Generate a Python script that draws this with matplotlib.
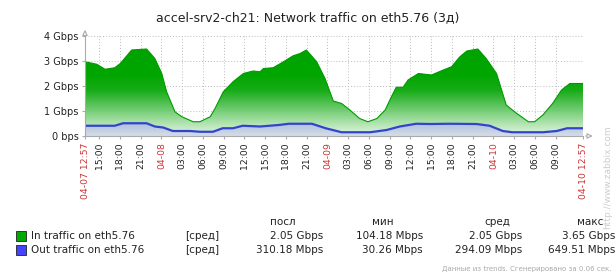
""" Zabbix style network traffic graph """

import numpy as np
import matplotlib
matplotlib.use("Agg")
import matplotlib.pyplot as plt
from matplotlib.colors import LinearSegmentedColormap
from matplotlib.patches import Polygon, Rectangle


# hours since 04-07 12:57, values in Gbps
in_hours = [0, 1.7, 2.9, 4.3, 5.1, 6.75, 8.9, 10.1, 11.1, 11.8, 13.0, 14.0, 15.65, 16.6,
            18.1, 18.8, 20.0, 21.4, 22.9, 24.3, 25.3, 25.8, 27.2, 28.7, 30.1, 31.1, 32.0,
            33.5, 34.7, 35.9, 37.1, 38.3, 39.7, 40.9, 42.2, 43.4, 44.3, 45.0, 46.0, 46.7,
            48.2, 50.1, 51.8, 53.0, 54.2, 55.2, 56.8, 58.0, 59.5, 60.9, 62.1, 64.1, 65.0,
            66.2, 67.6, 68.9, 70.1, 72]
in_gbps = [2.97, 2.87, 2.67, 2.73, 2.9, 3.44, 3.48, 3.1, 2.5, 1.77, 0.97, 0.77, 0.57, 0.57,
           0.77, 1.1, 1.77, 2.17, 2.5, 2.6, 2.57, 2.7, 2.73, 2.97, 3.21, 3.3, 3.44,
           2.97, 2.3, 1.4, 1.3, 1.04, 0.7, 0.57, 0.7, 1.04, 1.57, 1.95, 1.95, 2.24,
           2.5, 2.44, 2.64, 2.77, 3.17, 3.4, 3.48, 3.1, 2.5, 1.24, 0.97, 0.57, 0.57,
           0.84, 1.3, 1.84, 2.1, 2.1]

out_hours = [0, 4.3, 5.5, 8.9, 10.1, 11.3, 12.7, 15.2, 16.6, 18.5, 19.9, 21.4, 22.8, 25.3,
             28.0, 29.5, 32.8, 34.8, 37.1, 41.2, 43.6, 45.5, 47.9, 49.9, 52.7, 56.6, 58.5,
             60.4, 61.8, 66.2, 68.2, 69.7, 72]
out_gbps = [0.41, 0.41, 0.51, 0.51, 0.38, 0.34, 0.2, 0.2, 0.17, 0.17, 0.31, 0.31, 0.41, 0.38,
            0.44, 0.49, 0.49, 0.31, 0.15, 0.15, 0.24, 0.38, 0.49, 0.48, 0.49, 0.48, 0.41,
            0.2, 0.15, 0.15, 0.2, 0.31, 0.31]

y_ticks = [0, 1, 2, 3, 4]
y_labels = ["0 bps", "1 Gbps", "2 Gbps", "3 Gbps", "4 Gbps"]

first_tick = 2.05  # 15:00 on 04-07
x_labels = ["15:00", "18:00", "21:00", "04-08", "03:00", "06:00", "09:00", "12:00",
            "15:00", "18:00", "21:00", "04-09", "03:00", "06:00", "09:00", "12:00",
            "15:00", "18:00", "21:00", "04-10", "03:00", "06:00", "09:00"]
start_label = "04-07 12:57"
end_label = "04-10 12:57"
span_hours = 72

title = "accel-srv2-ch21: Network traffic on eth5.76 (3д)"
legend_names = ["In traffic on eth5.76", "Out traffic on eth5.76"]
legend_colors = ["#00aa00", "#4444ff"]
legend_heads = ["посл", "мин", "сред", "макс"]
legend_vals = [["2.05 Gbps", "104.18 Mbps", "2.05 Gbps", "3.65 Gbps"],
               ["310.18 Mbps", "30.26 Mbps", "294.09 Mbps", "649.51 Mbps"]]

RED = "#cc3333"
GRID = "#bbbbbb"

fig = plt.figure(figsize=(6.16, 2.76), dpi=100)
ax = fig.add_axes([85 / 616, 1 - 136 / 276, 498 / 616, 100 / 276])
ax.set_xlim(0, span_hours)
ax.set_ylim(0, 4)

# green gradient area, clipped to the In traffic polygon
green = LinearSegmentedColormap.from_list("g", [
    (0.0, "#e6f6e6"), (0.13, "#aee2ae"), (0.28, "#66c866"),
    (0.45, "#18ac18"), (0.6, "#00a600"), (1.0, "#00a200")])
grad = np.linspace(0, 1, 256).reshape(-1, 1)
img = ax.imshow(grad, cmap=green, origin="lower", aspect="auto",
                extent=[0, span_hours, 0, 4], zorder=2)
xs = np.asarray(in_hours)
poly = Polygon(np.column_stack([np.r_[xs, xs[-1], xs[0]],
                                np.r_[in_gbps, 0, 0]]),
               closed=True, facecolor="none", edgecolor="none", transform=ax.transData)
ax.add_patch(poly)
img.set_clip_path(poly)
ax.plot(in_hours, in_gbps, color="#009a00", lw=0.8, zorder=3)

# blue area + line
blue = LinearSegmentedColormap.from_list("b", ["#d4dce8", "#aebfd8"])
img2 = ax.imshow(np.linspace(0, 1, 64).reshape(-1, 1), cmap=blue, origin="lower",
                 aspect="auto", extent=[0, span_hours, 0, 0.55], zorder=4)
xo = np.asarray(out_hours)
poly2 = Polygon(np.column_stack([np.r_[xo, xo[-1], xo[0]],
                                 np.r_[out_gbps, 0, 0]]),
                closed=True, facecolor="none", edgecolor="none", transform=ax.transData)
ax.add_patch(poly2)
img2.set_clip_path(poly2)
ax.plot(out_hours, out_gbps, color="#3344cc", lw=1.6, zorder=5)

# grid
ticks = [first_tick + 3 * i for i in range(len(x_labels))]
for t in ticks:
    ax.axvline(t, color=GRID, lw=0.7, ls=(0, (1, 2)), zorder=1)
for v in y_ticks[1:]:
    ax.axhline(v, color=GRID, lw=0.7, ls=(0, (1, 2)), zorder=1)

for s in ["top", "right"]:
    ax.spines[s].set_visible(False)
for s in ["left", "bottom"]:
    ax.spines[s].set_color("#aaaaaa")
    ax.spines[s].set_linewidth(0.8)
    ax.spines[s].set_zorder(6)

# arrows on the axes
ax.annotate("", xy=(0, 1.09), xytext=(0, 1.0), xycoords="axes fraction",
            arrowprops=dict(arrowstyle="-|>", color="#aaaaaa", lw=0.8,
                            mutation_scale=8, fc="white"))
ax.annotate("", xy=(1.025, 0), xytext=(1.0, 0), xycoords="axes fraction",
            arrowprops=dict(arrowstyle="-|>", color="#aaaaaa", lw=0.8,
                            mutation_scale=8, fc="white"))

ax.set_yticks(y_ticks)
ax.set_yticklabels(y_labels, fontsize=7, color="#222222")

all_ticks = [0] + ticks + [span_hours]
all_labels = [start_label] + x_labels + [end_label]
ax.set_xticks(all_ticks)
ax.set_xticklabels(all_labels, rotation=90, fontsize=6.7)
for lbl in ax.get_xticklabels():
    txt = lbl.get_text()
    lbl.set_color(RED if ("-" in txt) else "#222222")
ax.tick_params(axis="both", length=2.5, color="#aaaaaa", pad=2)

fig.text(308 / 616, 1 - 18 / 276, title, ha="center", va="center", fontsize=9,
         color="#222222")

# legend table
row_y = [236, 250]
head_x = [283, 383, 497, 590]
val_right = [323, 423, 522, 615]
for i, h in enumerate(legend_heads):
    fig.text(head_x[i] / 616, 1 - 222 / 276, h, ha="center", va="center",
             fontsize=7.5, color="#222222")
for r in range(2):
    y = 1 - row_y[r] / 276
    fig.add_artist(Rectangle((16 / 616, y - 5 / 276), 10 / 616, 10 / 276,
                             facecolor=legend_colors[r], edgecolor="#222222",
                             lw=0.6, transform=fig.transFigure))
    fig.text(31 / 616, y, legend_names[r], ha="left", va="center", fontsize=7.5,
             color="#222222")
    fig.text(185 / 616, y, "[сред]", ha="left", va="center", fontsize=7.5,
             color="#222222")
    for c in range(4):
        fig.text(val_right[c] / 616, y, legend_vals[r][c], ha="right", va="center",
                 fontsize=7.5, color="#222222")

fig.text(612 / 616, 1 - 269 / 276, "Данные из trends. Сгенерировано за 0.06 сек.",
         ha="right", va="center", fontsize=5, color="#aaaaaa")
fig.text(608 / 616, 1 - 177 / 276, "http://www.zabbix.com", rotation=90,
         ha="center", va="center", fontsize=6.5, color="#cccccc")

fig.savefig("out.png", dpi=100)
